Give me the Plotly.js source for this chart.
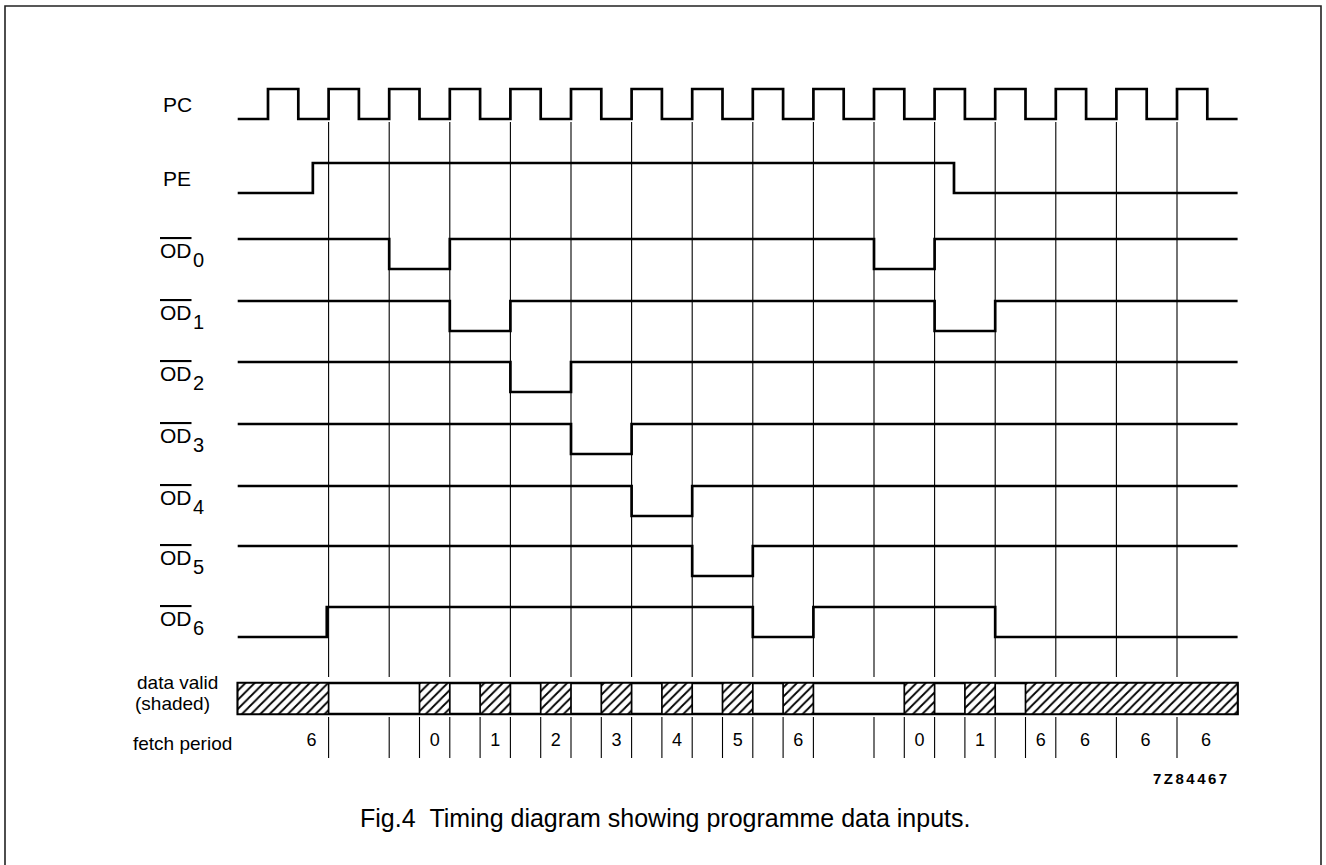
<!DOCTYPE html>
<html>
<head>
<meta charset="utf-8">
<script src="https://cdn.plot.ly/plotly-3.0.1.min.js"></script>
<style>
  html, body { margin: 0; padding: 0; background: #fff; }
  #chart { width: 1326px; height: 865px; }
</style>
</head>
<body>
<div id="chart"></div>
<script>
// ---------------- DATA (time in clock periods, levels 0/1) ----------------
const SIGNAL_NAMES = ['PC', 'PE', 'OD', 'OD', 'OD', 'OD', 'OD', 'OD', 'OD'];
const SIGNAL_SUBS  = ['',   '',   '0',  '1',  '2',  '3',  '4',  '5',  '6'];

const PC_T = [-0.5, 0, 0.5, 1, 1.5, 2, 2.5, 3, 3.5, 4, 4.5, 5, 5.5, 6, 6.5, 7, 7.5,
              8, 8.5, 9, 9.5, 10, 10.5, 11, 11.5, 12, 12.5, 13, 13.5, 14, 14.5, 15, 15.5, 16];
const PC_V = [0, 1, 0, 1, 0, 1, 0, 1, 0, 1, 0, 1, 0, 1, 0, 1, 0,
              1, 0, 1, 0, 1, 0, 1, 0, 1, 0, 1, 0, 1, 0, 1, 0, 0];

const PE_T  = [-0.5, 0.74, 11.32, 16];
const PE_V  = [0, 1, 0, 0];
const OD0_T = [-0.5, 2, 3, 10, 11, 16];
const OD0_V = [1, 0, 1, 0, 1, 1];
const OD1_T = [-0.5, 3, 4, 11, 12, 16];
const OD1_V = [1, 0, 1, 0, 1, 1];
const OD2_T = [-0.5, 4, 5, 16];
const OD2_V = [1, 0, 1, 1];
const OD3_T = [-0.5, 5, 6, 16];
const OD3_V = [1, 0, 1, 1];
const OD4_T = [-0.5, 6, 7, 16];
const OD4_V = [1, 0, 1, 1];
const OD5_T = [-0.5, 7, 8, 16];
const OD5_V = [1, 0, 1, 1];
const OD6_T = [-0.5, 0.97, 8, 9, 12, 16];
const OD6_V = [0, 1, 0, 1, 0, 0];

// clock reference lines (rising edges)
const EDGE_T = [1, 2, 3, 4, 5, 6, 7, 8, 9, 10, 11, 12, 13, 14, 15];

// data valid (shaded) intervals
const VALID_START = [-0.5, 2.5, 3.5, 4.5, 5.5, 6.5, 7.5, 8.5, 10.5, 11.5, 12.5];
const VALID_END   = [1,    3,   4,   5,   6,   7,   8,   9,   11,   12,   16];
const BAR_START = -0.5, BAR_END = 16;

// fetch period row
const FETCH_TICKS = [1, 2, 2.5, 3, 3.5, 4, 4.5, 5, 5.5, 6, 6.5, 7, 7.5, 8, 8.5, 9,
                     10, 10.5, 11, 11.5, 12, 12.5, 13, 14, 15];
const FETCH_T     = [0.72, 2.75, 3.75, 4.75, 5.75, 6.75, 7.75, 8.75, 10.75, 11.75, 12.75, 13.48, 14.48, 15.48];
const FETCH_LABEL = ['6', '0', '1', '2', '3', '4', '5', '6', '0', '1', '6', '6', '6', '6'];

// ---------------- LAYOUT CONSTANTS ----------------
const W = 1326, H = 865;
const X0_PX = 268, PERIOD_PX = 60.6;       // pixel of t=0, pixels per period
const ROW_HIGH = [89, 163, 239, 301, 362, 424, 486, 546, 607];
const AMP = 30;
const EDGE_Y0 = 122, EDGE_Y1 = 677;
const BAR_Y = 698.5, BAR_H = 31;
const FETCH_Y0 = 717, FETCH_Y1 = 758, FETCH_TEXT_Y = 741;
const FONT = '"Liberation Sans", Arial, Helvetica, sans-serif';

const tracks = [
  [PC_T, PC_V], [PE_T, PE_V], [OD0_T, OD0_V], [OD1_T, OD1_V], [OD2_T, OD2_V],
  [OD3_T, OD3_V], [OD4_T, OD4_V], [OD5_T, OD5_V], [OD6_T, OD6_V]
];

const traces = [];

// vertical clock reference lines
(function () {
  const x = [], y = [];
  EDGE_T.forEach(t => { x.push(t, t, null); y.push(EDGE_Y0, EDGE_Y1, null); });
  traces.push({ type: 'scatter', mode: 'lines', x, y, hoverinfo: 'skip',
    line: { color: '#000', width: 1.1 } });
})();

// fetch period separators
(function () {
  const x = [], y = [];
  FETCH_TICKS.forEach(t => { x.push(t, t, null); y.push(FETCH_Y0, FETCH_Y1, null); });
  traces.push({ type: 'scatter', mode: 'lines', x, y, hoverinfo: 'skip',
    line: { color: '#000', width: 1.1 } });
})();

// signal waveforms
tracks.forEach(([T, V], i) => {
  traces.push({
    type: 'scatter', mode: 'lines', x: T,
    y: V.map(v => v ? ROW_HIGH[i] : ROW_HIGH[i] + AMP),
    line: { shape: 'hv', color: '#000', width: 2.7 }, hoverinfo: 'skip'
  });
});

// data valid bar outline
traces.push({
  type: 'bar', orientation: 'h', y: [BAR_Y], base: [BAR_START], x: [BAR_END - BAR_START],
  width: BAR_H, marker: { color: '#fff', line: { color: '#000', width: 2.4 } }, hoverinfo: 'skip'
});
// shaded intervals
traces.push({
  type: 'bar', orientation: 'h',
  y: VALID_START.map(() => BAR_Y), base: VALID_START,
  x: VALID_START.map((s, k) => VALID_END[k] - s),
  width: BAR_H,
  marker: {
    color: '#fff',
    pattern: { shape: '/', size: 6.5, solidity: 0.28, fgcolor: '#000', bgcolor: '#fff' },
    line: { color: '#000', width: 1.7 }
  },
  hoverinfo: 'skip'
});

// fetch period numbers
traces.push({
  type: 'scatter', mode: 'text', x: FETCH_T, y: FETCH_T.map(() => FETCH_TEXT_Y),
  text: FETCH_LABEL, textposition: 'middle center',
  textfont: { family: FONT, size: 18, color: '#000' }, hoverinfo: 'skip'
});

// ---------------- ANNOTATIONS ----------------
const px = v => v / W;
const ann = [];
SIGNAL_NAMES.forEach((name, i) => {
  const yc = ROW_HIGH[i] + AMP / 2;
  if (!SIGNAL_SUBS[i]) {
    ann.push({ xref: 'paper', yref: 'y', x: px(161), y: yc, xanchor: 'left', yanchor: 'middle',
      text: name, showarrow: false, font: { family: FONT, size: 21, color: '#000' } });
  } else {
    ann.push({ xref: 'paper', yref: 'y', x: px(158), y: yc - 3.5, xanchor: 'left', yanchor: 'middle',
      text: '<span style="text-decoration:overline">' + name + '</span>', showarrow: false,
      font: { family: FONT, size: 21, color: '#000' } });
    ann.push({ xref: 'paper', yref: 'y', x: px(191), y: yc + 5.5, xanchor: 'left', yanchor: 'middle',
      text: SIGNAL_SUBS[i], showarrow: false, font: { family: FONT, size: 20, color: '#000' } });
  }
});
ann.push({ xref: 'paper', yref: 'y', x: px(220), y: 682, xanchor: 'right', yanchor: 'middle',
  text: 'data valid', showarrow: false, font: { family: FONT, size: 19, color: '#000' } });
ann.push({ xref: 'paper', yref: 'y', x: px(212), y: 703, xanchor: 'right', yanchor: 'middle',
  text: '(shaded)', showarrow: false, font: { family: FONT, size: 19, color: '#000' } });
ann.push({ xref: 'paper', yref: 'y', x: px(234), y: 743, xanchor: 'right', yanchor: 'middle',
  text: 'fetch period', showarrow: false, font: { family: FONT, size: 19, color: '#000' } });
ann.push({ xref: 'paper', yref: 'y', x: px(1151), y: 778, xanchor: 'left', yanchor: 'middle',
  text: '<span style="letter-spacing:2.5px">7Z84467</span>', showarrow: false,
  font: { family: FONT, size: 15, color: '#000', weight: 'bold' } });
ann.push({ xref: 'paper', yref: 'y', x: px(665), y: 818, xanchor: 'center', yanchor: 'middle',
  text: 'Fig.4&nbsp;&nbsp;Timing diagram showing programme data inputs.', showarrow: false,
  font: { family: FONT, size: 25, color: '#000' } });

const layout = {
  width: W, height: H,
  margin: { l: 0, r: 0, t: 0, b: 0, pad: 0 },
  paper_bgcolor: '#fff', plot_bgcolor: '#fff',
  showlegend: false, barmode: 'overlay',
  xaxis: { range: [(0 - X0_PX) / PERIOD_PX, (W - X0_PX) / PERIOD_PX], visible: false, fixedrange: true },
  yaxis: { range: [H, 0], visible: false, fixedrange: true },
  annotations: ann,
  shapes: [
    { type: 'rect', xref: 'paper', yref: 'paper', x0: px(5), x1: px(1321), y0: -0.05, y1: 1 - 6 / H,
      line: { color: '#222', width: 1.6 }, fillcolor: 'rgba(0,0,0,0)', layer: 'above' }
  ]
};

Plotly.newPlot('chart', traces, layout, { staticPlot: true, displayModeBar: false });
</script>
</body>
</html>
